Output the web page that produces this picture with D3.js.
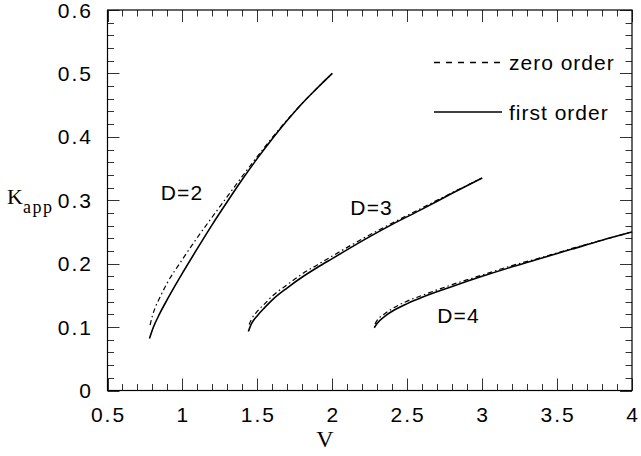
<!DOCTYPE html>
<html><head><meta charset="utf-8">
<script src="https://cdn.jsdelivr.net/npm/d3@7"></script>
<style>body{margin:0;background:#fff}</style>
</head><body>
<svg id="c" width="641" height="456"></svg>
<script>
// ---- data ----
const xTicks = [0.5, 1, 1.5, 2, 2.5, 3, 3.5, 4];
const xTickLabels = ["0.5", "1", "1.5", "2", "2.5", "3", "3.5", "4"];
const yTicks = [0, 0.1, 0.2, 0.3, 0.4, 0.5, 0.6];
const yTickLabels = ["0", "0.1", "0.2", "0.3", "0.4", "0.5", "0.6"];

const d2V_first = [0.78, 0.79, 0.806, 0.85, 0.90, 1.00, 1.10, 1.20, 1.30, 1.40, 1.50, 1.60, 1.70, 1.80, 1.90, 2.00];
const d2K_first = [0.082, 0.089, 0.0996, 0.122, 0.144, 0.185, 0.224, 0.262, 0.298, 0.333, 0.366, 0.397, 0.426, 0.453, 0.477, 0.50];
const d2V_zero  = [0.784, 0.80, 0.817, 0.85, 0.895, 0.995, 1.096, 1.20, 1.30, 1.40, 1.50, 1.60, 1.70, 1.80, 1.90, 2.00];
const d2K_zero  = [0.103, 0.118, 0.130, 0.147, 0.168, 0.205, 0.240, 0.274, 0.306, 0.338, 0.369, 0.399, 0.427, 0.453, 0.477, 0.50];

const d3V_first = [1.44, 1.46, 1.50, 1.55, 1.60, 1.70, 1.80, 1.90, 2.00, 2.20, 2.40, 2.60, 2.80, 3.00];
const d3K_first = [0.093, 0.105, 0.118, 0.131, 0.143, 0.162, 0.179, 0.194, 0.208, 0.236, 0.262, 0.286, 0.311, 0.335];
const d3V_zero  = [1.445, 1.46, 1.50, 1.55, 1.60, 1.70, 1.80, 1.90, 2.00, 2.20, 2.40, 2.60, 2.80, 3.00];
const d3K_zero  = [0.104, 0.112, 0.125, 0.137, 0.149, 0.167, 0.184, 0.198, 0.212, 0.239, 0.264, 0.288, 0.312, 0.335];

const d4V_first = [2.28, 2.30, 2.35, 2.40, 2.50, 2.60, 2.80, 3.00, 3.20, 3.40, 3.60, 3.80, 4.00];
const d4K_first = [0.099, 0.106, 0.117, 0.125, 0.137, 0.147, 0.164, 0.180, 0.195, 0.209, 0.223, 0.237, 0.25];
const d4V_zero  = [2.285, 2.30, 2.35, 2.40, 2.50, 2.60, 2.80, 3.00, 3.20, 3.40, 3.60, 3.80, 4.00];
const d4K_zero  = [0.105, 0.111, 0.121, 0.129, 0.141, 0.150, 0.167, 0.182, 0.197, 0.210, 0.224, 0.237, 0.25];

const curveLabels = ["D=2", "D=3", "D=4"];
const curveLabelPos = [[0.855, 0.30], [2.12, 0.277], [2.7, 0.106]]; // (V,K) of text start/baseline
const legendNames = ["zero order", "first order"];

// ---- layout ----
const L = 107.5, R = 632, T = 10, B = 390.5;
const svg = d3.select("#c");
const x = d3.scaleLinear().domain([0.5, 4]).range([L, R]);
const y = d3.scaleLinear().domain([0, 0.6]).range([B, T]);
const sans = "'Liberation Sans', Arial, Helvetica, sans-serif";
const serif = "'Liberation Serif', 'Times New Roman', serif";

// ticks (inward, all four sides)
const xMinor = d3.range(0.5, 4.0001, 0.1);
const yMinor = d3.range(0, 0.6001, 0.02);
const isMajorX = v => Math.abs(v * 2 - Math.round(v * 2)) < 1e-6;
const isMajorY = v => Math.abs(v * 10 - Math.round(v * 10)) < 1e-6;
const tg = svg.append("g").attr("stroke", "#333").attr("stroke-width", 1);
xMinor.forEach(v => {
  const len = isMajorX(v) ? 12 : 6.5;
  const px = Math.round(x(v)) + 0.5;
  tg.append("line").attr("x1", px).attr("x2", px).attr("y1", B).attr("y2", B - len);
  tg.append("line").attr("x1", px).attr("x2", px).attr("y1", T).attr("y2", T + len);
});
yMinor.forEach(v => {
  const len = isMajorY(v) ? 12 : 6.5;
  const py = Math.round(y(v)) + 0.5;
  tg.append("line").attr("y1", py).attr("y2", py).attr("x1", L).attr("x2", L + len);
  tg.append("line").attr("y1", py).attr("y2", py).attr("x1", R).attr("x2", R - len);
});

// frame
svg.append("rect").attr("x", L).attr("y", T).attr("width", R - L).attr("height", B - T)
  .attr("fill", "none").attr("stroke", "#000").attr("stroke-width", 1.2);

// tick labels
svg.append("g").selectAll("text").data(xTicks).join("text")
  .attr("x", d => x(d) + 1).attr("y", 422).attr("text-anchor", "middle")
  .attr("font-family", sans).attr("font-size", 21).attr("letter-spacing", 2)
  .text((d, i) => xTickLabels[i]);
svg.append("g").selectAll("text").data(yTicks).join("text")
  .attr("x", 93).attr("y", d => y(d) + 7.5).attr("text-anchor", "end")
  .attr("font-family", sans).attr("font-size", 21).attr("letter-spacing", 2)
  .text((d, i) => yTickLabels[i]);

// axis titles
svg.append("text").attr("x", 325).attr("y", 447).attr("text-anchor", "middle")
  .attr("font-family", serif).attr("font-size", 24).text("V");
const kt = svg.append("text").attr("x", 7).attr("y", 204).attr("font-family", serif).attr("font-size", 22);
kt.append("tspan").text("K");
kt.append("tspan").attr("dy", 9).attr("font-size", 18).attr("letter-spacing", 1.5).text("app");

// curves
const line = d3.line().x(d => x(d[0])).y(d => y(d[1])).curve(d3.curveMonotoneX);
const zip = (a, b) => a.map((v, i) => [v, b[i]]);
const series = [
  {v: d2V_zero, k: d2K_zero, dash: true},
  {v: d2V_first, k: d2K_first, dash: false},
  {v: d3V_zero, k: d3K_zero, dash: true},
  {v: d3V_first, k: d3K_first, dash: false},
  {v: d4V_zero, k: d4K_zero, dash: true},
  {v: d4V_first, k: d4K_first, dash: false}
];
svg.append("g").selectAll("path").data(series).join("path")
  .attr("d", s => line(zip(s.v, s.k)))
  .attr("fill", "none").attr("stroke", "#000")
  .attr("stroke-width", s => s.dash ? 1.2 : 1.6)
  .attr("stroke-dasharray", s => s.dash ? "5,3,1.5,3" : null);

// curve labels
svg.append("g").selectAll("text").data(curveLabels).join("text")
  .attr("x", (d, i) => x(curveLabelPos[i][0])).attr("y", (d, i) => y(curveLabelPos[i][1]))
  .attr("font-family", sans).attr("font-size", 21).attr("letter-spacing", 1.2)
  .text(d => d);

// legend
const lg = svg.append("g");
legendNames.forEach((n, i) => {
  const ly = 62.5 + i * 49.5;
  lg.append("line").attr("x1", 434).attr("x2", 502).attr("y1", ly).attr("y2", ly)
    .attr("stroke", "#000").attr("stroke-width", 1.6)
    .attr("stroke-dasharray", i === 0 ? "6,6" : null);
  lg.append("text").attr("x", 509).attr("y", ly + 7.5)
    .attr("font-family", sans).attr("font-size", 21).attr("letter-spacing", 1).text(n);
});
</script>
</body></html>
